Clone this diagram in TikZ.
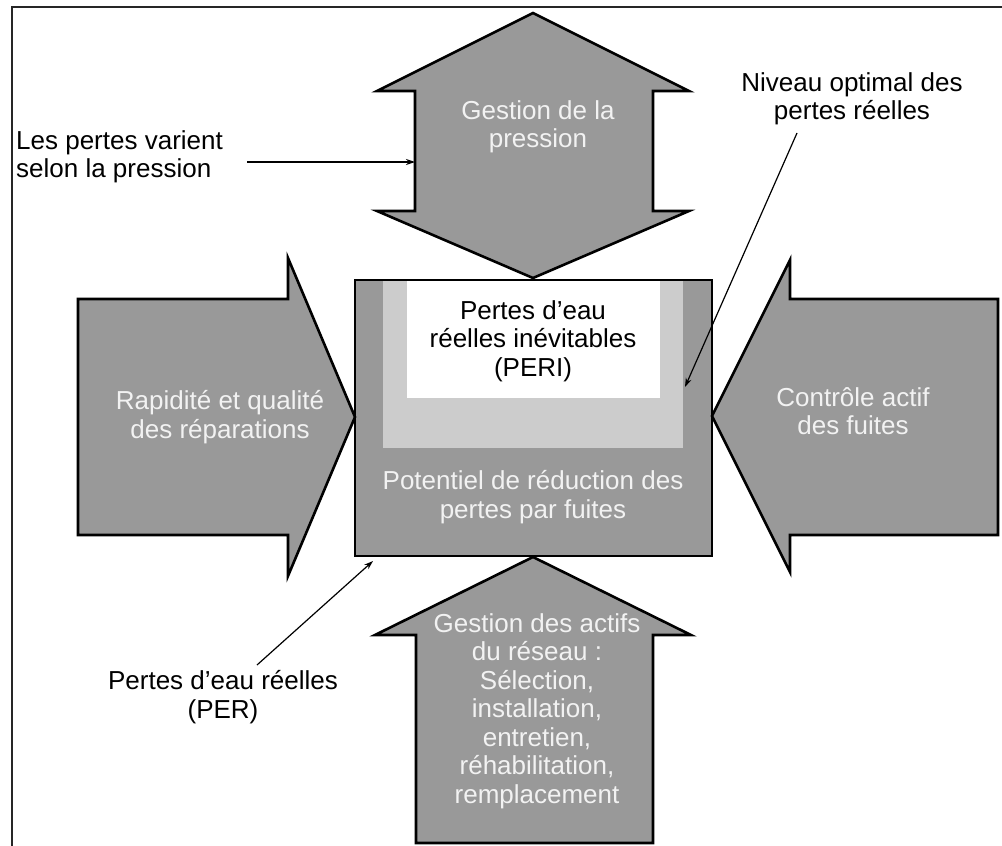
\documentclass[tikz,border=0pt]{standalone}
\usepackage{fontspec}
\setmainfont{Liberation Sans}
\usetikzlibrary{arrows.meta}
\definecolor{dgray}{RGB}{153,153,153}
\definecolor{lgray}{RGB}{204,204,204}
\definecolor{wtext}{RGB}{242,242,242}
\tikzset{
  bigshape/.style={draw=black, fill=dgray, line width=2.6pt, line join=miter},
  intext/.style={text=wtext, align=center, inner sep=0pt, font=\fontsize{26}{28.5}\selectfont},
  lbl/.style={text=black, align=center, inner sep=0pt, font=\fontsize{26}{28.5}\selectfont},
  pointer/.style={draw=black, line width=1.2pt, -{Stealth[length=9pt,width=6pt]}}
}
\begin{document}
\begin{tikzpicture}[x=1pt,y=-1pt]
\useasboundingbox (0,0) rectangle (1002,846);
% frame
\draw[line width=2pt, black!85] (12,846) -- (12,7) -- (1002,7);
% central box
\fill[dgray] (355,280) rectangle (712,556);
\fill[lgray] (383,280) rectangle (683,448);
\fill[white] (407,280) rectangle (660,398);
\draw[line width=2.6pt] (355,280) rectangle (712,556);
\node[lbl] (peri) at (533,341) {Pertes d’eau\\réelles inévitables\\(PERI)};
\node[intext] (potentiel) at (533,497) {Potentiel de réduction des\\pertes par fuites};
% top double arrow
\path[bigshape] (533,13) -- (689,91) -- (653,91) -- (653,211) -- (689,211) -- (533,278)
  -- (377,211) -- (415,211) -- (415,91) -- (377,91) -- cycle;
\node[intext] (pression) at (538,127) {Gestion de la\\pression};
% left arrow
\path[bigshape] (78,299) -- (288,299) -- (288,258) -- (355,417) -- (288,576) -- (288,535) -- (78,535) -- cycle;
\node[intext] (repar) at (220,417) {Rapidité et qualité\\des réparations};
% right arrow
\path[bigshape] (998,299) -- (790,299) -- (790,260) -- (712,416) -- (790,572) -- (790,535) -- (998,535) -- cycle;
\node[intext] (controle) at (853,411) {Contrôle actif\\des fuites};
% bottom arrow
\path[bigshape] (533,557) -- (691,635) -- (653,635) -- (653,843) -- (416,843) -- (416,635) -- (375,635) -- cycle;
\node[intext] (actifs) at (537,711) {Gestion des actifs\\du réseau :\\Sélection,\\installation,\\entretien,\\réhabilitation,\\remplacement};
% labels
\node[lbl, align=left, anchor=west] (varient) at (16,157) {Les pertes varient\\selon la pression};
\node[lbl] (niveau) at (852,99) {Niveau optimal des\\pertes réelles};
\node[lbl] (per) at (223,697) {Pertes d’eau réelles\\(PER)};
% pointer ends
\coordinate (varientA) at (247,162);
\coordinate (varientB) at (415,162);
\coordinate (niveauA) at (797,133);
\coordinate (niveauB) at (685,387);
\coordinate (perA) at (257,665);
\coordinate (perB) at (373,561);
\draw[pointer] (varientA) -- (varientB);
\draw[pointer] (niveauA) -- (niveauB);
\draw[pointer] (perA) -- (perB);
\end{tikzpicture}
\end{document}
